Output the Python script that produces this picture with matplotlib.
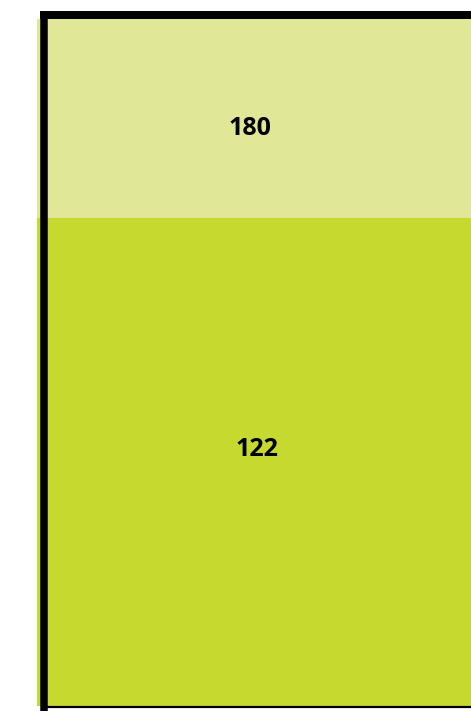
import matplotlib
matplotlib.use("Agg")
import matplotlib.pyplot as plt
from matplotlib.lines import Line2D

# data
categories = ["Total", "Part"]
values = [180, 122]
colors = ["#e0e898", "#c5d92e"]

W, H = 471, 711
fig = plt.figure(figsize=(W / 100, H / 100), dpi=100)
fig.patch.set_facecolor("white")

# axes area in pixels
x0, x1 = 37, 471
y_top, y_bot = 19, 705.5
ax = fig.add_axes([x0 / W, (H - y_bot) / H, (x1 - x0) / W, (y_bot - y_top) / H])
ymax = 171.8
ax.set_xlim(0, 1)
ax.set_ylim(0, ymax)
for v, c in zip(values, colors):
    ax.bar(0.5, v, width=1.0, color=c, edgecolor="none", zorder=2)
for s in ax.spines.values():
    s.set_visible(False)
ax.set_xticks([])
ax.set_yticks([])

label_pos = [(0.491, 0.840), (0.506, 0.373)]
for v, (lx, ly) in zip(values, label_pos):
    ax.text(lx, ly, str(v), transform=ax.transAxes, ha="center", va="center",
            fontsize=18, fontweight="bold", family=["Open Sans", "DejaVu Sans"],
            color="black", zorder=5)

def px_line(xa, ya, xb, yb, lw_px):
    fig.add_artist(Line2D([xa / W, xb / W], [1 - ya / H, 1 - yb / H],
                          transform=fig.transFigure, color="black",
                          linewidth=lw_px * 72 / 100, solid_capstyle="butt", zorder=10))

# left and top frame (thick), bottom (thin)
px_line(43.5, 11, 43.5, 711, 7.5)
px_line(40, 15, 471, 15, 8)
px_line(43.5, 707, 471, 707, 2.2)

fig.savefig("out.png", dpi=100)
